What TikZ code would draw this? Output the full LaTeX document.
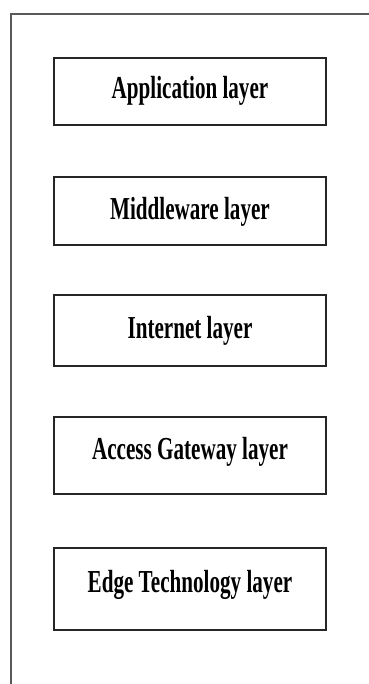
\documentclass[tikz,border=0pt]{standalone}
\usepackage{fontspec}
\newfontfamily\labfont[FakeStretch=0.66]{Liberation Serif}
\begin{document}
\begin{tikzpicture}[x=1pt,y=-1pt,
  frame/.style={draw=black!65,line width=2.2pt},
  layerbox/.style={draw=black!85,line width=1.6pt,fill=white,rectangle,inner sep=0pt,minimum width=272pt},
  layertext/.style={anchor=base,inner sep=0pt,font=\labfont\bfseries\fontsize{32}{36}\selectfont}]
\useasboundingbox (0,0) rectangle (368,684);
\fill[white] (0,0) rectangle (368,684);
\coordinate (ftr) at (370,14);
\coordinate (ftl) at (11,14);
\coordinate (fbl) at (11,686);
\draw[frame] (ftr) -- (ftl) -- (fbl);
\node[layerbox,minimum height=67pt] (b1) at (190,91.5) {};
\node[layerbox,minimum height=68pt] (b2) at (190,211) {};
\node[layerbox,minimum height=71pt] (b3) at (190,330.5) {};
\node[layerbox,minimum height=77pt] (b4) at (190,455.5) {};
\node[layerbox,minimum height=82pt] (b5) at (190,589) {};
\node[layertext] (t1) at (190,99) {Application layer};
\node[layertext] (t2) at (190,220) {Middleware layer};
\node[layertext] (t3) at (190,338) {Internet layer};
\node[layertext] (t4) at (190,459) {Access Gateway layer};
\node[layertext] (t5) at (190,592) {Edge Technology layer};
\end{tikzpicture}
\end{document}
